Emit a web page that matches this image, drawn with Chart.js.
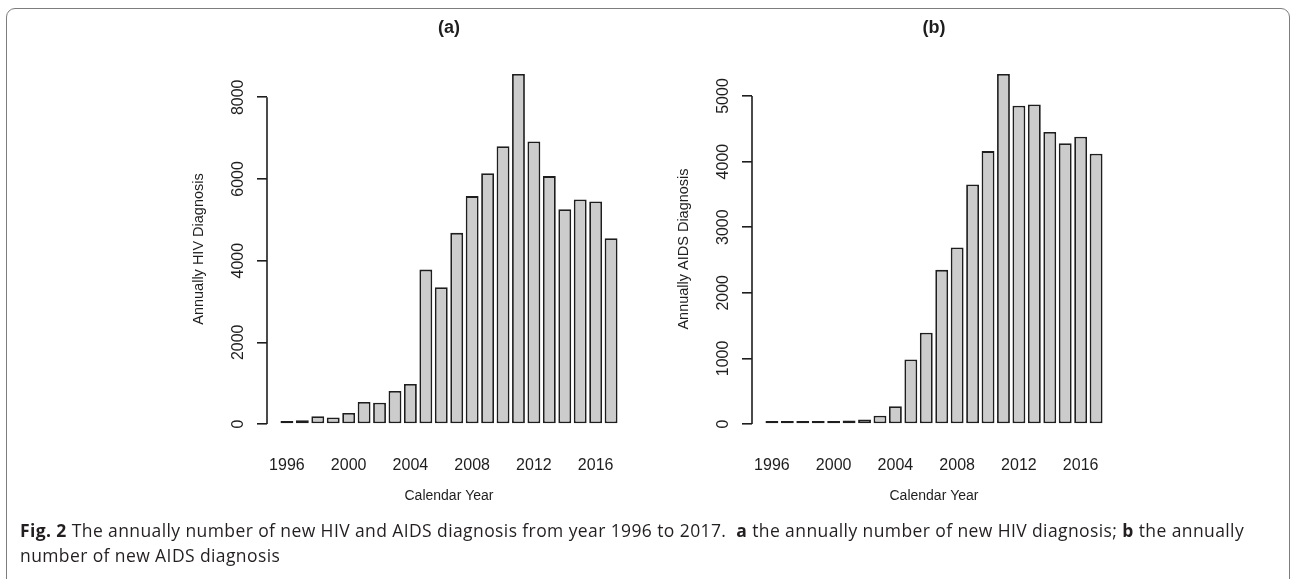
<!DOCTYPE html>
<html>
<head>
<meta charset="utf-8">
<script src="https://cdn.jsdelivr.net/npm/chart.js@4.4.1/dist/chart.umd.min.js"></script>
<style>
  html, body { margin: 0; padding: 0; background: #fff; }
  body { width: 1292px; height: 579px; position: relative; overflow: hidden; }
  .frame {
    position: absolute; left: 6px; top: 8px; width: 1282px; height: 620px;
    border: 1.5px solid #7d7d7d; border-radius: 9px;
  }
  .panel { position: absolute; top: 0; width: 560px; height: 520px; }
  #panelA { left: 169px; }
  #panelB { left: 654px; }
  .caption {
    position: absolute; left: 20px; top: 518px; width: 1268px;
    font-family: "Open Sans", "Noto Sans", sans-serif; font-size: 17.5px; line-height: 25px;
    letter-spacing: 0.4px; color: #231f20; white-space: nowrap;
  }
  .caption b { font-weight: 700; }
</style>
</head>
<body>
<div class="frame"></div>
<div class="panel" id="panelA"><canvas id="chartHIV"></canvas></div>
<div class="panel" id="panelB"><canvas id="chartAIDS"></canvas></div>
<div class="caption">
  <b>Fig. 2</b> The annually number of new HIV and AIDS diagnosis from year 1996 to 2017.&nbsp; <b>a</b> the annually number of new HIV diagnosis; <b>b</b> the annually<br>
  number of new AIDS diagnosis
</div>
<script>
// ==================== DATA ====================
const years = [1996, 1997, 1998, 1999, 2000, 2001, 2002, 2003, 2004, 2005, 2006,
               2007, 2008, 2009, 2010, 2011, 2012, 2013, 2014, 2015, 2016, 2017];
const hivCounts = [30, 90, 190, 160, 270, 540, 520, 810, 980, 3780, 3350,
                   4680, 5580, 6140, 6800, 8570, 6920, 6070, 5260, 5500, 5450, 4550];
const aidsCounts = [10, 20, 40, 35, 35, 55, 70, 125, 270, 985, 1390,
                    2350, 2690, 3650, 4160, 5335, 4850, 4870, 4450, 4280, 4380, 4120];
const xTickYears = [1996, 2000, 2004, 2008, 2012, 2016];
const yTicksHIV = [0, 2000, 4000, 6000, 8000];
const yTicksAIDS = [0, 1000, 2000, 3000, 4000, 5000];

const INK = "#1e1e1e";
const FONT = "'Liberation Sans', Arial, Helvetica, sans-serif";

// R-style axis line: only from first to last tick
const rAxisLine = {
  id: "rAxisLine",
  afterDraw(chart) {
    const s = chart.scales.y;
    const t = s.ticks;
    if (!t.length) return;
    const ctx = chart.ctx;
    ctx.save();
    ctx.strokeStyle = INK;
    ctx.lineWidth = 1.6;
    ctx.beginPath();
    ctx.moveTo(s.right, s.getPixelForValue(t[0].value));
    ctx.lineTo(s.right, s.getPixelForValue(t[t.length - 1].value));
    ctx.stroke();
    ctx.restore();
  }
};

function makeChart(id, title, yLabel, values, yTicks) {
  const ctx = document.getElementById(id).getContext("2d");
  const top = Math.max(...values);
  const pad = 0.04 * top;           // R's default 4% axis extension
  const xPad = 1.29;                // same extension in year units

  return new Chart(ctx, {
    type: "bar",
    data: {
      datasets: [{
        data: years.map((y, i) => ({ x: y, y: values[i] })),
        backgroundColor: "#cccccc",
        borderColor: "#1e1e1e",
        borderWidth: 1.8,
        borderSkipped: false,
        minBarLength: 3,
        categoryPercentage: 1,
        barPercentage: 1 / 1.2
      }]
    },
    options: {
      responsive: true,
      maintainAspectRatio: false,
      animation: false,
      events: [],
      layout: { padding: { left: 0, right: 98, top: 0, bottom: 0 } },
      plugins: {
        legend: { display: false },
        tooltip: { enabled: false },
        title: {
          display: true,
          fullSize: false,
          text: title,
          color: INK,
          font: { family: FONT, size: 18, weight: "bold" },
          padding: { top: 17.7, bottom: 20.7 }
        }
      },
      scales: {
        x: {
          type: "linear",
          offset: false,
          min: years[0] - xPad,
          max: years[years.length - 1] + xPad,
          grid: { display: false },
          border: { display: false },
          afterBuildTicks: s => { s.ticks = xTickYears.map(v => ({ value: v })); },
          afterFit: s => { s.height = 82; },
          ticks: {
            autoSkip: false,
            maxRotation: 0,
            padding: 10,
            color: INK,
            font: { family: FONT, size: 16 },
            callback: v => String(v)
          },
          title: {
            display: true,
            text: "Calendar Year",
            color: INK,
            font: { family: FONT, size: 14 },
            padding: { top: 0, bottom: 15.6 }
          }
        },
        y: {
          min: -pad,
          max: top + pad,
          grid: {
            display: true,
            drawOnChartArea: false,
            drawTicks: true,
            tickLength: 10,
            color: INK,
            lineWidth: 1.6
          },
          border: { display: false },
          afterBuildTicks: s => { s.ticks = yTicks.map(v => ({ value: v })); },
          afterFit: s => { s.width = 98; },
          ticks: {
            minRotation: 90,
            maxRotation: 90,
            crossAlign: "center",
            padding: 1,
            color: INK,
            font: { family: FONT, size: 16 },
            callback: v => String(v)
          },
          title: {
            display: true,
            text: yLabel,
            color: INK,
            font: { family: FONT, size: 14.5 },
            padding: { top: 21.3, bottom: 0 }
          }
        }
      }
    },
    plugins: [rAxisLine]
  });
}

makeChart("chartHIV", "(a)", "Annually HIV Diagnosis", hivCounts, yTicksHIV);
makeChart("chartAIDS", "(b)", "Annually AIDS Diagnosis", aidsCounts, yTicksAIDS);
</script>
</body>
</html>
